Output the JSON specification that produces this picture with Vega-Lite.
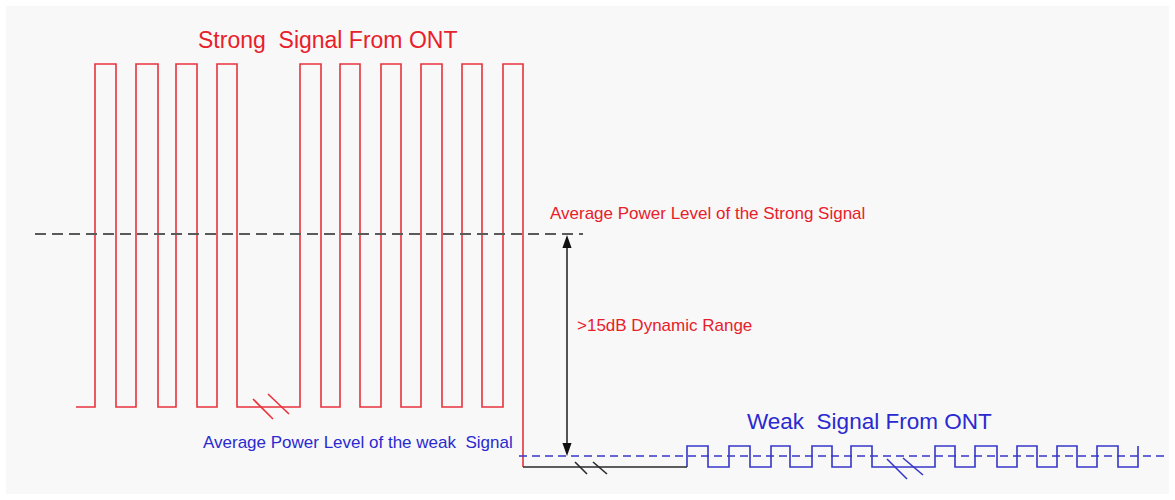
{
  "$schema": "https://vega.github.io/schema/vega-lite/v6.json",
  "width": 1175,
  "height": 500,
  "autosize": {"type": "fit", "contains": "padding"},
  "padding": 6,
  "background": "#ffffff",
  "config": {"view": {"fill": "#f8f8f8", "stroke": null}},
  "datasets": {
    "strong": [
      {"i": 0, "x": 76, "y": 407}, {"i": 1, "x": 95, "y": 407}, {"i": 2, "x": 95, "y": 64}, {"i": 3, "x": 116, "y": 64},
      {"i": 4, "x": 116, "y": 407}, {"i": 5, "x": 136, "y": 407}, {"i": 6, "x": 136, "y": 64}, {"i": 7, "x": 158, "y": 64},
      {"i": 8, "x": 158, "y": 407}, {"i": 9, "x": 176, "y": 407}, {"i": 10, "x": 176, "y": 64}, {"i": 11, "x": 197, "y": 64},
      {"i": 12, "x": 197, "y": 407}, {"i": 13, "x": 217, "y": 407}, {"i": 14, "x": 217, "y": 64}, {"i": 15, "x": 237, "y": 64},
      {"i": 16, "x": 237, "y": 407}, {"i": 17, "x": 300, "y": 407}, {"i": 18, "x": 300, "y": 64}, {"i": 19, "x": 321, "y": 64},
      {"i": 20, "x": 321, "y": 407}, {"i": 21, "x": 340, "y": 407}, {"i": 22, "x": 340, "y": 64}, {"i": 23, "x": 360, "y": 64},
      {"i": 24, "x": 360, "y": 407}, {"i": 25, "x": 381, "y": 407}, {"i": 26, "x": 381, "y": 64}, {"i": 27, "x": 401, "y": 64},
      {"i": 28, "x": 401, "y": 407}, {"i": 29, "x": 421, "y": 407}, {"i": 30, "x": 421, "y": 64}, {"i": 31, "x": 442, "y": 64},
      {"i": 32, "x": 442, "y": 407}, {"i": 33, "x": 462, "y": 407}, {"i": 34, "x": 462, "y": 64}, {"i": 35, "x": 482, "y": 64},
      {"i": 36, "x": 482, "y": 407}, {"i": 37, "x": 503, "y": 407}, {"i": 38, "x": 503, "y": 64}, {"i": 39, "x": 523, "y": 64},
      {"i": 40, "x": 523, "y": 467}
    ],
    "weak": [
      {"i": 0, "x": 687, "y": 467}, {"i": 1, "x": 687, "y": 446}, {"i": 2, "x": 708, "y": 446}, {"i": 3, "x": 708, "y": 467},
      {"i": 4, "x": 729, "y": 467}, {"i": 5, "x": 729, "y": 446}, {"i": 6, "x": 750, "y": 446}, {"i": 7, "x": 750, "y": 467},
      {"i": 8, "x": 771, "y": 467}, {"i": 9, "x": 771, "y": 446}, {"i": 10, "x": 790, "y": 446}, {"i": 11, "x": 790, "y": 467},
      {"i": 12, "x": 812, "y": 467}, {"i": 13, "x": 812, "y": 446}, {"i": 14, "x": 832, "y": 446}, {"i": 15, "x": 832, "y": 467},
      {"i": 16, "x": 851, "y": 467}, {"i": 17, "x": 851, "y": 446}, {"i": 18, "x": 872, "y": 446}, {"i": 19, "x": 872, "y": 467},
      {"i": 20, "x": 935, "y": 467}, {"i": 21, "x": 935, "y": 446}, {"i": 22, "x": 955, "y": 446}, {"i": 23, "x": 955, "y": 467},
      {"i": 24, "x": 975, "y": 467}, {"i": 25, "x": 975, "y": 446}, {"i": 26, "x": 997, "y": 446}, {"i": 27, "x": 997, "y": 467},
      {"i": 28, "x": 1017, "y": 467}, {"i": 29, "x": 1017, "y": 446}, {"i": 30, "x": 1037, "y": 446}, {"i": 31, "x": 1037, "y": 467},
      {"i": 32, "x": 1057, "y": 467}, {"i": 33, "x": 1057, "y": 446}, {"i": 34, "x": 1077, "y": 446}, {"i": 35, "x": 1077, "y": 467},
      {"i": 36, "x": 1097, "y": 467}, {"i": 37, "x": 1097, "y": 446}, {"i": 38, "x": 1118, "y": 446}, {"i": 39, "x": 1118, "y": 467},
      {"i": 40, "x": 1138, "y": 467}, {"i": 41, "x": 1138, "y": 446}
    ],
    "segments": [
      {"kind": "strong", "x": 253, "y": 399, "x2": 273, "y2": 419},
      {"kind": "strong", "x": 268, "y": 394, "x2": 289, "y2": 414},
      {"kind": "black", "x": 523, "y": 467, "x2": 687, "y2": 467},
      {"kind": "black", "x": 575, "y": 462, "x2": 587, "y2": 474},
      {"kind": "black", "x": 593, "y": 462, "x2": 607, "y2": 474},
      {"kind": "black", "x": 567, "y": 240, "x2": 567, "y2": 451},
      {"kind": "weak", "x": 887, "y": 459, "x2": 907, "y2": 479},
      {"kind": "weak", "x": 903, "y": 458, "x2": 923, "y2": 475}
    ],
    "levels": [
      {"kind": "strong", "x": 35, "y": 234, "x2": 583, "y2": 234},
      {"kind": "weak", "x": 519, "y": 456, "x2": 1165, "y2": 456}
    ],
    "heads": [
      {"dir": "up", "x": 567, "y": 241.5},
      {"dir": "down", "x": 567, "y": 449.5}
    ],
    "labels": [
      {"kind": "strong title", "text": "Strong \u00a0Signal From ONT", "x": 198, "y": 48},
      {"kind": "strong note", "text": "Average Power Level of the Strong Signal", "x": 550, "y": 219},
      {"kind": "strong note", "text": ">15dB Dynamic Range", "x": 577, "y": 331},
      {"kind": "weak note", "text": "Average Power Level of the weak \u00a0Signal", "x": 203, "y": 448},
      {"kind": "weak title", "text": "Weak \u00a0Signal From ONT", "x": 747, "y": 429}
    ]
  },
  "encoding": {
    "x": {"field": "x", "type": "quantitative", "scale": {"domain": [6, 1169], "nice": false, "zero": false}, "axis": null},
    "y": {"field": "y", "type": "quantitative", "scale": {"domain": [6, 494], "nice": false, "zero": false, "reverse": true}, "axis": null}
  },
  "layer": [
    {
      "data": {"name": "strong"},
      "mark": {"type": "line", "color": "#e8323c", "strokeWidth": 1.6},
      "encoding": {"order": {"field": "i", "type": "quantitative"}}
    },
    {
      "data": {"name": "weak"},
      "mark": {"type": "line", "color": "#3636c8", "strokeWidth": 1.6},
      "encoding": {"order": {"field": "i", "type": "quantitative"}}
    },
    {
      "data": {"name": "segments"},
      "transform": [{"filter": "datum.kind === 'strong'"}],
      "mark": {"type": "rule", "strokeWidth": 1.6, "color": "#e8323c"},
      "encoding": {"x2": {"field": "x2"}, "y2": {"field": "y2"}}
    },
    {
      "data": {"name": "segments"},
      "transform": [{"filter": "datum.kind === 'black'"}],
      "mark": {"type": "rule", "strokeWidth": 1.6, "color": "#2a2a2a"},
      "encoding": {"x2": {"field": "x2"}, "y2": {"field": "y2"}}
    },
    {
      "data": {"name": "segments"},
      "transform": [{"filter": "datum.kind === 'weak'"}],
      "mark": {"type": "rule", "strokeWidth": 1.6, "color": "#3636c8"},
      "encoding": {"x2": {"field": "x2"}, "y2": {"field": "y2"}}
    },
    {
      "data": {"name": "levels"},
      "transform": [{"filter": "datum.kind === 'strong'"}],
      "mark": {"type": "rule", "strokeWidth": 2.2, "strokeDash": [11, 6], "color": "#5a5a5a"},
      "encoding": {"x2": {"field": "x2"}, "y2": {"field": "y2"}}
    },
    {
      "data": {"name": "levels"},
      "transform": [{"filter": "datum.kind === 'weak'"}],
      "mark": {"type": "rule", "strokeWidth": 1.6, "strokeDash": [8, 5], "color": "#3636c8"},
      "encoding": {"x2": {"field": "x2"}, "y2": {"field": "y2"}}
    },
    {
      "data": {"name": "heads"},
      "mark": {"type": "point", "filled": true, "size": 169, "color": "#111111", "opacity": 1, "strokeWidth": 0},
      "encoding": {
        "shape": {"field": "dir", "type": "nominal", "scale": {"domain": ["up", "down"], "range": ["M0,-1L0.7,1L-0.7,1Z", "M0,1L0.7,-1L-0.7,-1Z"]}, "legend": null}
      }
    },
    {
      "data": {"name": "labels"},
      "transform": [{"filter": "datum.kind === 'strong title'"}],
      "mark": {"type": "text", "align": "left", "baseline": "alphabetic", "font": "Liberation Sans", "fontSize": 23, "color": "#e8202a"},
      "encoding": {"text": {"field": "text"}}
    },
    {
      "data": {"name": "labels"},
      "transform": [{"filter": "datum.kind === 'strong note'"}],
      "mark": {"type": "text", "align": "left", "baseline": "alphabetic", "font": "Liberation Sans", "fontSize": 17, "color": "#e8202a"},
      "encoding": {"text": {"field": "text"}}
    },
    {
      "data": {"name": "labels"},
      "transform": [{"filter": "datum.kind === 'weak note'"}],
      "mark": {"type": "text", "align": "left", "baseline": "alphabetic", "font": "Liberation Sans", "fontSize": 17, "color": "#2a2ad0"},
      "encoding": {"text": {"field": "text"}}
    },
    {
      "data": {"name": "labels"},
      "transform": [{"filter": "datum.kind === 'weak title'"}],
      "mark": {"type": "text", "align": "left", "baseline": "alphabetic", "font": "Liberation Sans", "fontSize": 22.5, "color": "#2a2ad0"},
      "encoding": {"text": {"field": "text"}}
    }
  ]
}
